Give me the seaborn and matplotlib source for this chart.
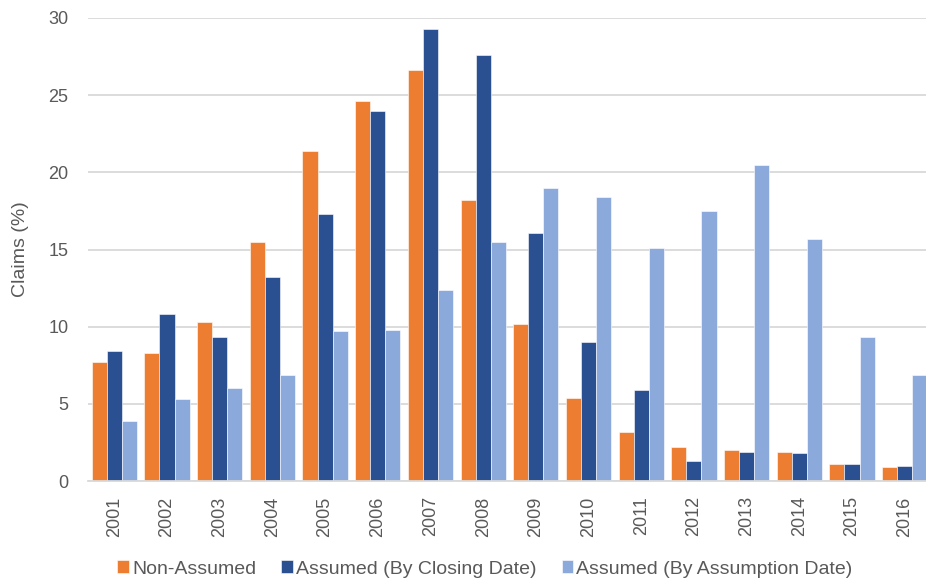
import matplotlib
matplotlib.use("Agg")
import matplotlib.pyplot as plt
from matplotlib import font_manager
import seaborn as sns
import pandas as pd

years = ["2001", "2002", "2003", "2004", "2005", "2006", "2007", "2008",
         "2009", "2010", "2011", "2012", "2013", "2014", "2015", "2016"]
non_assumed = [7.7, 8.3, 10.3, 15.5, 21.4, 24.6, 26.6, 18.2,
               10.2, 5.4, 3.2, 2.2, 2.0, 1.9, 1.1, 0.9]
assumed_closing = [8.4, 10.8, 9.3, 13.2, 17.3, 24.0, 29.3, 27.6,
                   16.1, 9.0, 5.9, 1.3, 1.9, 1.8, 1.1, 1.0]
assumed_assumption = [3.9, 5.3, 6.0, 6.9, 9.7, 9.8, 12.4, 15.5,
                      19.0, 18.4, 15.1, 17.5, 20.5, 15.7, 9.3, 6.9]
series_names = ["Non-Assumed", "Assumed (By Closing Date)",
                "Assumed (By Assumption Date)"]
colors = ["#ED7D31", "#2A5091", "#8CA9DC"]

df = pd.DataFrame({
    "Year": years * 3,
    "Claims": non_assumed + assumed_closing + assumed_assumption,
    "Series": [series_names[0]] * len(years)
              + [series_names[1]] * len(years)
              + [series_names[2]] * len(years),
})

sns.set_theme(style="white")
available = {f.name for f in font_manager.fontManager.ttflist}
base_font = "Liberation Sans" if "Liberation Sans" in available else "DejaVu Sans"
plt.rcParams["font.family"] = [base_font, "DejaVu Sans"]

text_gray = "#595959"
grid_gray = "#D9D9D9"

fig = plt.figure(figsize=(9.26, 5.83), dpi=100)
ax = fig.add_axes([88 / 926, 1 - 481 / 583, (931 - 88) / 926, (481 - 18) / 583])

sns.barplot(data=df, x="Year", y="Claims", hue="Series", hue_order=series_names,
            palette=colors, width=0.86, saturation=1, ax=ax,
            edgecolor="white", linewidth=0.4, legend=True)

ax.set_ylim(0, 30)
ax.set_xlim(-0.5, len(years) - 0.5)
ax.set_yticks([0, 5, 10, 15, 20, 25, 30])
ax.yaxis.grid(True, color=grid_gray, linewidth=1.3)
ax.set_axisbelow(True)
for side in ["left", "right", "top"]:
    ax.spines[side].set_visible(False)
ax.spines["bottom"].set_color(grid_gray)
ax.spines["bottom"].set_linewidth(1.3)
ax.tick_params(axis="both", length=0, colors=text_gray, labelsize=13)
ax.tick_params(axis="y", pad=14)
ax.tick_params(axis="x", pad=11)
plt.setp(ax.get_xticklabels(), rotation=90)
ax.set_xlabel("")
ax.set_ylabel("Claims (%)", color=text_gray, fontsize=14, labelpad=14)

handles, labels = ax.get_legend_handles_labels()
ax.get_legend().remove()
fig.legend(handles, labels, loc="center", bbox_to_anchor=(485 / 926, 1 - 569 / 583),
           ncol=3, frameon=False, handlelength=0.6, handleheight=0.65,
           handletextpad=0.15, columnspacing=1.3,
           prop={"size": 14}, labelcolor=text_gray)

fig.savefig("out.png", dpi=100)
